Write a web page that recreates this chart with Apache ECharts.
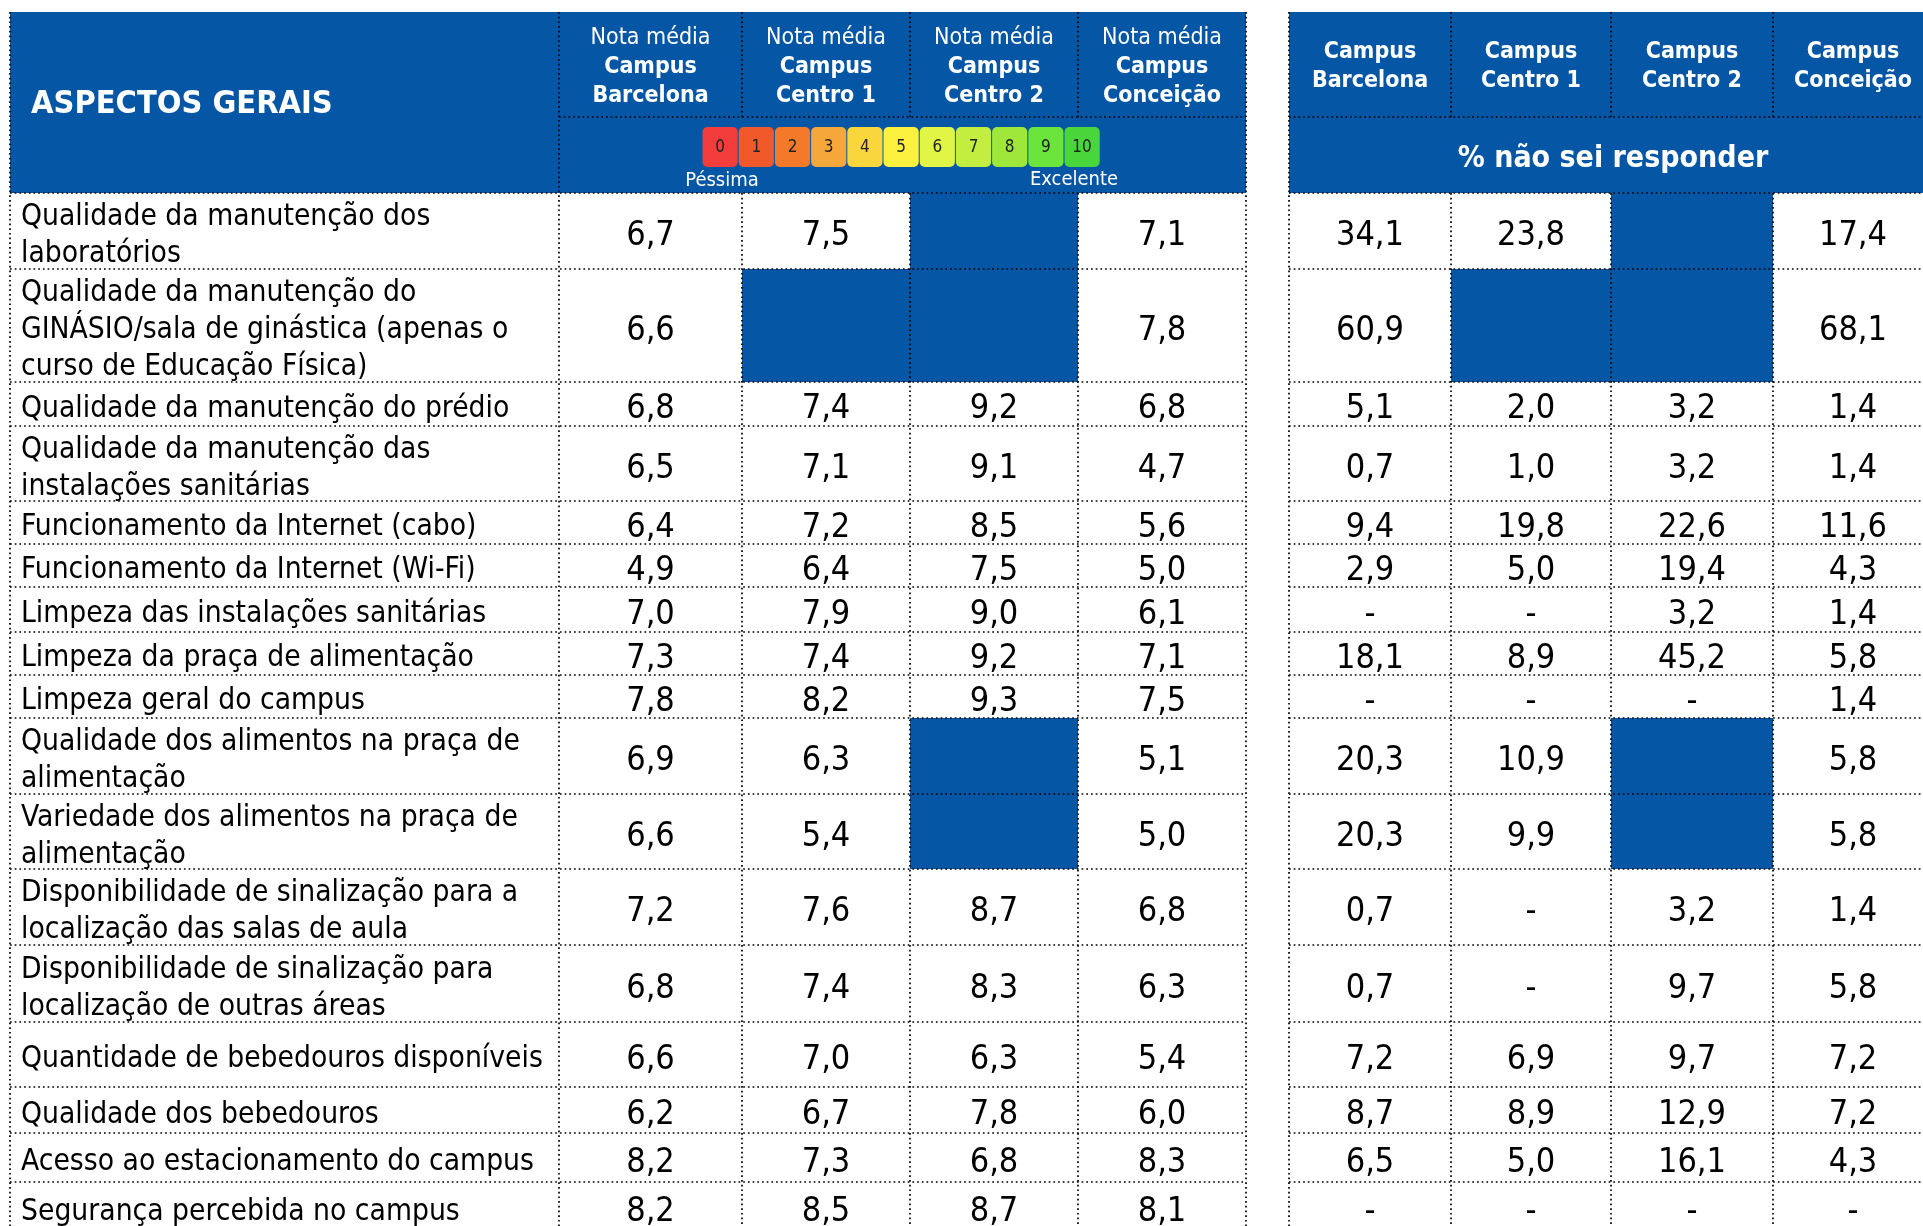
<!DOCTYPE html>
<html><head><meta charset="utf-8">
<script src="https://cdn.jsdelivr.net/npm/echarts@6/dist/echarts.min.js"></script>
<style>html,body{margin:0;padding:0;background:#fff}#c{width:1923px;height:1226px}</style>
</head><body><div id="c"></div>
<script>
// ---------- DATA ----------
const rowLabels = [
  'Qualidade da manutenção dos\nlaboratórios',
  'Qualidade da manutenção do\nGINÁSIO/sala de ginástica (apenas o\ncurso de Educação Física)',
  'Qualidade da manutenção do prédio',
  'Qualidade da manutenção das\ninstalações sanitárias',
  'Funcionamento da Internet (cabo)',
  'Funcionamento da Internet (Wi-Fi)',
  'Limpeza das instalações sanitárias',
  'Limpeza da praça de alimentação',
  'Limpeza geral do campus',
  'Qualidade dos alimentos na praça de\nalimentação',
  'Variedade dos alimentos na praça de\nalimentação',
  'Disponibilidade de sinalização para a\nlocalização das salas de aula',
  'Disponibilidade de sinalização para\nlocalização de outras áreas',
  'Quantidade de bebedouros disponíveis',
  'Qualidade dos bebedouros',
  'Acesso ao estacionamento do campus',
  'Segurança percebida no campus'
];
const campuses = ['Barcelona', 'Centro 1', 'Centro 2', 'Conceição'];
const tableTitle = 'ASPECTOS GERAIS';
const notaPrefix = 'Nota média';
const campusWord = 'Campus';
const nsrTitle = '% não sei responder';
const scaleTicks = [0, 1, 2, 3, 4, 5, 6, 7, 8, 9, 10];
const scaleEnds = ['Péssima', 'Excelente'];

// null = not applicable (blue cell); 0 = shown as "-"
const notaBarcelona = [6.7, 6.6, 6.8, 6.5, 6.4, 4.9, 7.0, 7.3, 7.8, 6.9, 6.6, 7.2, 6.8, 6.6, 6.2, 8.2, 8.2];
const notaCentro1   = [7.5, null, 7.4, 7.1, 7.2, 6.4, 7.9, 7.4, 8.2, 6.3, 5.4, 7.6, 7.4, 7.0, 6.7, 7.3, 8.5];
const notaCentro2   = [null, null, 9.2, 9.1, 8.5, 7.5, 9.0, 9.2, 9.3, null, null, 8.7, 8.3, 6.3, 7.8, 6.8, 8.7];
const notaConceicao = [7.1, 7.8, 6.8, 4.7, 5.6, 5.0, 6.1, 7.1, 7.5, 5.1, 5.0, 6.8, 6.3, 5.4, 6.0, 8.3, 8.1];

const nsrBarcelona  = [34.1, 60.9, 5.1, 0.7, 9.4, 2.9, 0, 18.1, 0, 20.3, 20.3, 0.7, 0.7, 7.2, 8.7, 6.5, 0];
const nsrCentro1    = [23.8, null, 2.0, 1.0, 19.8, 5.0, 0, 8.9, 0, 10.9, 9.9, 0, 0, 6.9, 8.9, 5.0, 0];
const nsrCentro2    = [null, null, 3.2, 3.2, 22.6, 19.4, 3.2, 45.2, 0, null, null, 3.2, 9.7, 9.7, 12.9, 16.1, 0];
const nsrConceicao  = [17.4, 68.1, 1.4, 1.4, 11.6, 4.3, 1.4, 5.8, 1.4, 5.8, 5.8, 1.4, 5.8, 7.2, 7.2, 4.3, 0];

// ---------- LAYOUT / STYLE ----------
const W = 1923, H = 1226;
const FONT = '"DejaVu Sans Condensed","DejaVu Sans",sans-serif';
const BLUE = '#0656a6';
const scaleColors = ['#f33c3c','#f2592a','#f47a2a','#f6a73a','#f9d63b','#fdf13f','#e0f546','#c3ee40','#9fe83b','#6be53b','#49d63a'];
const headerTop = 12, headerMid = 117, headerBottom = 193;
const rowHeights = [76, 113, 44, 75, 43, 43, 45, 43, 43, 76, 75, 76, 77, 65, 46, 49, 50];
const leftEdges = [10, 559, 742, 910, 1078, 1246];
const rightEdges = [1289, 1451, 1611, 1773, 1935];
const rowEdges = [headerBottom];
rowHeights.forEach(h => rowEdges.push(rowEdges[rowEdges.length - 1] + h));

const valueColumns = [
  { x0: leftEdges[1], x1: leftEdges[2], vals: notaBarcelona },
  { x0: leftEdges[2], x1: leftEdges[3], vals: notaCentro1 },
  { x0: leftEdges[3], x1: leftEdges[4], vals: notaCentro2 },
  { x0: leftEdges[4], x1: leftEdges[5], vals: notaConceicao },
  { x0: rightEdges[0], x1: rightEdges[1], vals: nsrBarcelona },
  { x0: rightEdges[1], x1: rightEdges[2], vals: nsrCentro1 },
  { x0: rightEdges[2], x1: rightEdges[3], vals: nsrCentro2 },
  { x0: rightEdges[3], x1: rightEdges[4], vals: nsrConceicao }
];
const fmt = v => (v === 0 ? '-' : v.toFixed(1).replace('.', ','));

const LABEL_SIZE = 29.7, VALUE_SIZE = 34;

// cells data: [col, row, value]
const cellData = [];
valueColumns.forEach((col, c) => col.vals.forEach((v, r) => cellData.push([c, r, v === null ? '-' : v])));

function P(api, x, y) { return api.coord([x, y]); }

// ---------- SERIES ----------
const headerSeries = {
  type: 'custom', silent: true, z: 1,
  data: campuses.map((c, i) => [i]),
  renderItem: (params, api) => {
    const i = params.dataIndex;
    const ch = [];
    if (i === 0) {
      let a = P(api, leftEdges[0], headerTop), b = P(api, leftEdges[5], headerBottom);
      ch.push({ type: 'rect', shape: { x: a[0], y: a[1], width: b[0] - a[0], height: b[1] - a[1] }, style: { fill: BLUE } });
      a = P(api, rightEdges[0], headerTop); b = P(api, rightEdges[4], headerBottom);
      ch.push({ type: 'rect', shape: { x: a[0], y: a[1], width: b[0] - a[0], height: b[1] - a[1] }, style: { fill: BLUE } });
      let t = P(api, 31, 105);
      ch.push({ type: 'text', style: { text: tableTitle, x: t[0], y: t[1], align: 'left', verticalAlign: 'middle', fontSize: 32.3, fontWeight: 'bold', fontFamily: FONT, fill: '#fff' } });
      t = P(api, 1613, 159);
      ch.push({ type: 'text', style: { text: nsrTitle, x: t[0], y: t[1], align: 'center', verticalAlign: 'middle', fontSize: 30, fontWeight: 'bold', fontFamily: FONT, fill: '#fff' } });
    }
    const lx = (leftEdges[i + 1] + leftEdges[i + 2]) / 2;
    let p = P(api, lx, 38.5);
    ch.push({ type: 'text', style: { text: notaPrefix, x: p[0], y: p[1], align: 'center', verticalAlign: 'middle', fontSize: 23, fontFamily: FONT, fill: '#fff' } });
    p = P(api, lx, 67.5);
    ch.push({ type: 'text', style: { text: campusWord, x: p[0], y: p[1], align: 'center', verticalAlign: 'middle', fontSize: 23, fontWeight: 'bold', fontFamily: FONT, fill: '#fff' } });
    p = P(api, lx, 96.5);
    ch.push({ type: 'text', style: { text: campuses[i], x: p[0], y: p[1], align: 'center', verticalAlign: 'middle', fontSize: 23, fontWeight: 'bold', fontFamily: FONT, fill: '#fff' } });
    const rx = (rightEdges[i] + rightEdges[i + 1]) / 2 + (i === 3 ? -1 : 0);
    p = P(api, rx, 52.5);
    ch.push({ type: 'text', style: { text: campusWord, x: p[0], y: p[1], align: 'center', verticalAlign: 'middle', fontSize: 23, fontWeight: 'bold', fontFamily: FONT, fill: '#fff' } });
    p = P(api, rx, 81.5);
    ch.push({ type: 'text', style: { text: campuses[i], x: p[0], y: p[1], align: 'center', verticalAlign: 'middle', fontSize: 23, fontWeight: 'bold', fontFamily: FONT, fill: '#fff' } });
    return { type: 'group', children: ch };
  }
};

const scaleLeft = 702, scaleBoxW = 36.2, scaleTop = 127, scaleBottom = 167;
const scaleSeries = {
  type: 'custom', silent: true, z: 2,
  data: scaleTicks.map(v => [v]),
  renderItem: (params, api) => {
    const v = api.value(0);
    const a = P(api, scaleLeft + v * scaleBoxW, scaleTop);
    const b = P(api, scaleLeft + (v + 1) * scaleBoxW, scaleBottom);
    const ch = [
      { type: 'rect', shape: { x: a[0] + 0.5, y: a[1], width: b[0] - a[0] - 1, height: b[1] - a[1], r: 5 }, style: { fill: scaleColors[v] } },
      { type: 'text', style: { text: String(v), x: (a[0] + b[0]) / 2, y: (a[1] + b[1]) / 2 + 1, align: 'center', verticalAlign: 'middle', fontSize: 17, fontFamily: FONT, fill: '#222' } }
    ];
    if (v === 0) {
      const p = P(api, 722, 181);
      ch.push({ type: 'text', style: { text: scaleEnds[0], x: p[0], y: p[1], align: 'center', verticalAlign: 'middle', fontSize: 20, fontFamily: FONT, fill: '#fff' } });
    }
    if (v === 10) {
      const p = P(api, 1074, 180);
      ch.push({ type: 'text', style: { text: scaleEnds[1], x: p[0], y: p[1], align: 'center', verticalAlign: 'middle', fontSize: 20, fontFamily: FONT, fill: '#fff' } });
    }
    return { type: 'group', children: ch };
  }
};

const labelSeries = {
  type: 'custom', silent: true, z: 3,
  data: rowLabels.map((l, i) => [i]),
  renderItem: (params, api) => {
    const r = params.dataIndex;
    const p = P(api, 21, (rowEdges[r] + rowEdges[r + 1]) / 2 + 5);
    return { type: 'text', style: { text: rowLabels[r], x: p[0], y: p[1], align: 'left', verticalAlign: 'middle', fontSize: LABEL_SIZE, lineHeight: 37, fontFamily: FONT, fill: '#000' } };
  }
};

const cellSeries = {
  type: 'custom', silent: true, z: 3,
  data: cellData,
  renderItem: (params, api) => {
    const [c, r, v] = cellData[params.dataIndex];
    const col = valueColumns[c];
    const a = P(api, col.x0, rowEdges[r]);
    const b = P(api, col.x1, rowEdges[r + 1]);
    if (v === '-') {
      return { type: 'rect', shape: { x: a[0], y: a[1], width: b[0] - a[0], height: b[1] - a[1] }, style: { fill: BLUE } };
    }
    const cx = (a[0] + b[0]) / 2 + (c === 7 ? -1 : 0);
    return { type: 'text', style: { text: fmt(v), x: cx, y: (a[1] + b[1]) / 2 + 5.5, align: 'center', verticalAlign: 'middle', fontSize: VALUE_SIZE, fontFamily: FONT, fill: '#000' } };
  }
};

// dotted grid segments [x0,y0,x1,y1]
const segs = [];
const bottomY = rowEdges[rowEdges.length - 1];
segs.push([leftEdges[1], headerMid, leftEdges[5], headerMid]);
segs.push([rightEdges[0], headerMid, W, headerMid]);
rowEdges.slice(0, -1).forEach(y => { segs.push([leftEdges[0], y, leftEdges[5], y]); segs.push([rightEdges[0], y, W, y]); });
[leftEdges[0], leftEdges[1], leftEdges[5], rightEdges[0]].forEach(x => segs.push([x, headerTop, x, bottomY]));
[leftEdges[2], leftEdges[3], leftEdges[4], rightEdges[1], rightEdges[2], rightEdges[3]].forEach(x => {
  segs.push([x, headerTop, x, headerMid]); segs.push([x, headerBottom, x, bottomY]);
});
const gridSeries = {
  type: 'custom', silent: true, z: 4,
  data: segs.map((s, i) => [i]),
  renderItem: (params, api) => {
    const s = segs[params.dataIndex];
    const a = P(api, s[0], s[1]), b = P(api, s[2], s[3]);
    return { type: 'line', shape: { x1: a[0], y1: a[1], x2: b[0], y2: b[1] }, style: { stroke: '#000', lineWidth: 1.7, lineDash: [1.7, 3] } };
  }
};

const chart = echarts.init(document.getElementById('c'), null, { renderer: 'canvas' });
chart.setOption({
  animation: false,
  backgroundColor: '#fff',
  grid: { left: 0, right: 0, top: 0, bottom: 0 },
  xAxis: { type: 'value', min: 0, max: W, show: false },
  yAxis: { type: 'value', min: 0, max: H, inverse: true, show: false },
  series: [headerSeries, scaleSeries, cellSeries, labelSeries, gridSeries]
});
</script></body></html>
